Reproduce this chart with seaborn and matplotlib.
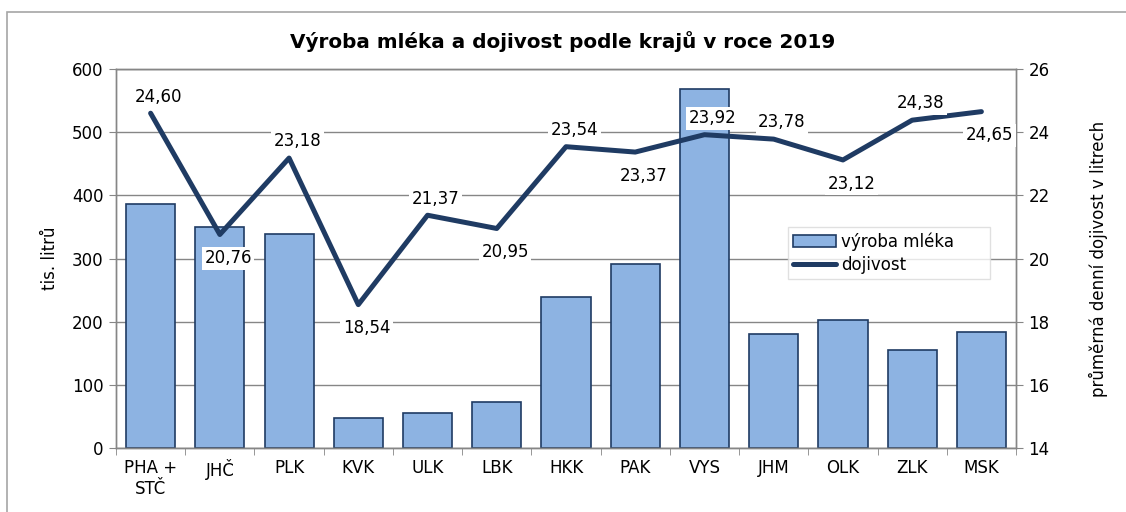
import matplotlib
matplotlib.use("Agg")
import matplotlib.pyplot as plt
import seaborn as sns
import pandas as pd
from matplotlib.patches import Rectangle

# data
kraje = ["PHA +\nSTČ", "JHČ", "PLK", "KVK", "ULK", "LBK", "HKK", "PAK", "VYS", "JHM", "OLK", "ZLK", "MSK"]
vyroba = [386, 350, 339, 48, 56, 73, 239, 292, 569, 181, 203, 155, 183]
dojivost = [24.60, 20.76, 23.18, 18.54, 21.37, 20.95, 23.54, 23.37, 23.92, 23.78, 23.12, 24.38, 24.65]
# label above (1) or below (-1) the point
label_pos = [1, -1, 1, -1, 1, -1, 1, -1, 1, 1, -1, 1, -1]

df = pd.DataFrame({"kraj": kraje, "vyroba": vyroba, "dojivost": dojivost})

sns.set_style("white")
plt.rcParams["font.family"] = ["DejaVu Sans"]
plt.rcParams.update({"text.color": "black", "axes.labelcolor": "black",
                     "xtick.color": "black", "ytick.color": "black"})

bar_col = "#8DB3E2"
line_col = "#1F3B63"
grid_col = "#868686"

fig = plt.figure(figsize=(11.26, 5.12), dpi=100)
ax = fig.add_axes([116/1126, 1-448/512, 900/1126, 379/512])

# outer chart frame
fig.patches.append(Rectangle((7/1126, -0.1), 1.2, 1-12/512+0.1, transform=fig.transFigure,
                             fill=False, edgecolor="#A6A6A6", lw=1.2))

sns.barplot(data=df, x="kraj", y="vyroba", color=bar_col, edgecolor=line_col,
            linewidth=1.2, width=0.71, saturation=1, ax=ax, label="výroba mléka", zorder=2)
if ax.get_legend() is not None:
    ax.get_legend().remove()
ax.set_ylim(0, 600)
ax.set_yticks(range(0, 601, 100))
ax.yaxis.grid(True, color=grid_col, lw=1)
ax.set_axisbelow(True)
ax.set_xlim(-0.5, len(kraje) - 0.5)
ax.set_xlabel("")
ax.set_ylabel("tis. litrů", fontsize=12, labelpad=9)
ax.tick_params(axis="y", labelsize=12, length=5, color=grid_col, labelcolor="black", left=True, pad=4)
ax.tick_params(axis="x", labelsize=12, length=0, labelcolor="black", pad=8)
# tick marks between categories
ax.set_xticks([i + 0.5 for i in range(-1, len(kraje))], minor=True)
ax.tick_params(axis="x", which="minor", length=5, color=grid_col, bottom=True)
for s in ax.spines.values():
    s.set_color(grid_col)
    s.set_linewidth(1)

ax2 = ax.twinx()
sns.lineplot(x=list(range(len(kraje))), y=dojivost, color=line_col, lw=3.6, ax=ax2,
             sort=False, label="dojivost")
ax2.set_ylim(14, 26)
ax2.set_yticks(range(14, 27, 2))
ax2.set_ylabel("průměrná denní dojivost v litrech", fontsize=12, labelpad=28)
ax2.tick_params(axis="y", labelsize=12, length=5, color=grid_col, labelcolor="black", right=True, pad=4)
for s in ax2.spines.values():
    s.set_color(grid_col)
    s.set_linewidth(1)

for i, (v, p) in enumerate(zip(dojivost, label_pos)):
    dy = 12 if p > 0 else -17
    ax2.annotate(f"{v:.2f}".replace(".", ","), (i, v), xytext=(6, dy), textcoords="offset points",
                 ha="center", va="center", fontsize=12, color="black",
                 bbox=dict(boxstyle="square,pad=0.15", fc="white", ec="none"))

h1, l1 = ax.get_legend_handles_labels()
h2, l2 = ax2.get_legend_handles_labels()
ax2.legend(h1 + h2, l1 + l2, loc="lower left", bbox_to_anchor=(0.737, 0.425, 0.243, 0.163),
           mode="expand", fontsize=12, frameon=True, fancybox=False, edgecolor="#D9D9D9",
           handlelength=2.6, handletextpad=0.3, borderpad=0.3, labelspacing=0.3)

fig.suptitle("Výroba mléka a dojivost podle krajů v roce 2019", x=0.5, y=1-42/512,
             va="center", fontsize=14.4, fontweight="bold", color="black")

fig.savefig("out.png", dpi=100)
